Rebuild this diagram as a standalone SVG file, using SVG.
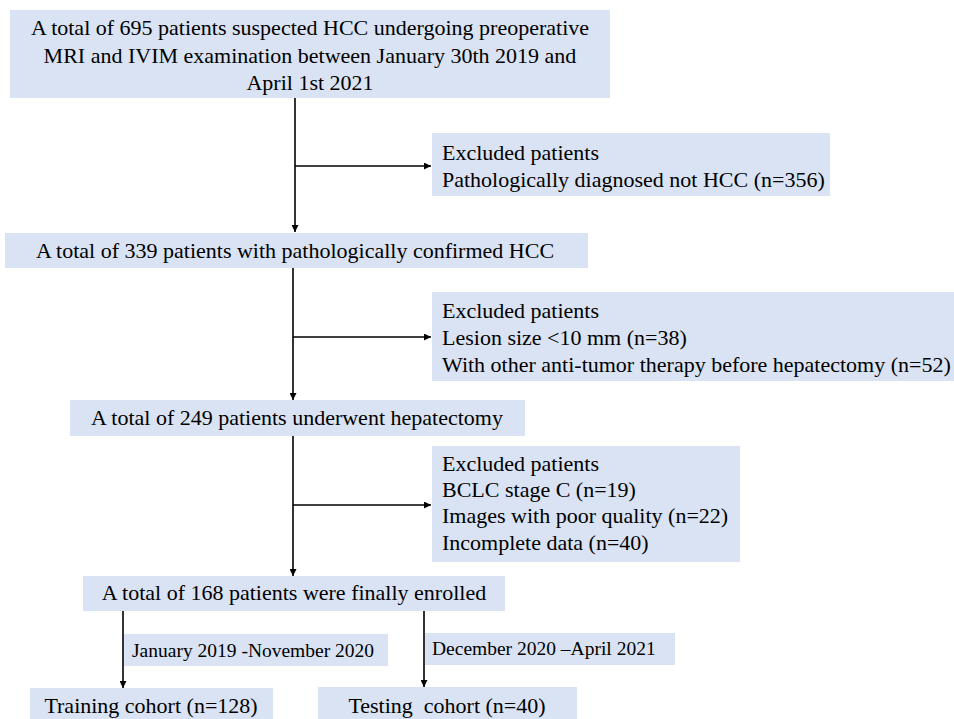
<svg xmlns="http://www.w3.org/2000/svg" width="954" height="719" viewBox="0 0 954 719">
<defs>
<style>
.box{fill:#dae3f3;}
.t{font-family:"Liberation Serif","Times New Roman",serif;font-size:22px;fill:#000;}
.s{font-family:"Liberation Serif","Times New Roman",serif;font-size:19.5px;fill:#000;}
.c{text-anchor:middle;}
.ln{stroke:#000;stroke-width:1.6;fill:none;}
</style>
<marker id="ah" viewBox="0 0 10 10" refX="10" refY="5" markerWidth="7" markerHeight="7" markerUnits="userSpaceOnUse" orient="auto">
<path d="M0,0 L10,5 L0,10 z" fill="#000"/>
</marker>
</defs>
<rect width="954" height="719" fill="#fff"/>
<g id="connectors">
<line class="ln" x1="295" y1="98" x2="295" y2="232" marker-end="url(#ah)"/>
<line class="ln" x1="295" y1="166" x2="431" y2="166" marker-end="url(#ah)"/>
<line class="ln" x1="293" y1="268" x2="293" y2="400" marker-end="url(#ah)"/>
<line class="ln" x1="293" y1="337" x2="431" y2="337" marker-end="url(#ah)"/>
<line class="ln" x1="293" y1="436" x2="293" y2="576" marker-end="url(#ah)"/>
<line class="ln" x1="293" y1="505" x2="431" y2="505" marker-end="url(#ah)"/>
<line class="ln" x1="123" y1="611" x2="123" y2="688" marker-end="url(#ah)"/>
<line class="ln" x1="424" y1="611" x2="424" y2="687" marker-end="url(#ah)"/>
</g>
<g id="n1">
<rect class="box" x="10" y="10" width="600" height="88"/>
<text class="t c" x="310" y="35">A total of 695 patients suspected HCC undergoing preoperative</text>
<text class="t c" x="310" y="63">MRI and IVIM examination between January 30th 2019 and</text>
<text class="t c" x="310" y="90">April 1st 2021</text>
</g>
<g id="e1">
<rect class="box" x="432" y="133" width="398" height="63"/>
<text class="t" x="442" y="160">Excluded patients</text>
<text class="t" x="442" y="187">Pathologically diagnosed not HCC (n=356)</text>
</g>
<g id="n2">
<rect class="box" x="5" y="233" width="583" height="35"/>
<text class="t c" x="295" y="258">A total of 339 patients with pathologically confirmed HCC</text>
</g>
<g id="e2">
<rect class="box" x="432" y="292" width="522" height="89"/>
<text class="t" x="442" y="318">Excluded patients</text>
<text class="t" x="442" y="345">Lesion size &lt;10 mm (n=38)</text>
<text class="t" x="442" y="372">With other anti-tumor therapy before hepatectomy (n=52)</text>
</g>
<g id="n3">
<rect class="box" x="70" y="400" width="455" height="36"/>
<text class="t c" x="297" y="425">A total of 249 patients underwent hepatectomy</text>
</g>
<g id="e3">
<rect class="box" x="432" y="446" width="308" height="116"/>
<text class="t" x="442" y="471">Excluded patients</text>
<text class="t" x="442" y="497">BCLC stage C (n=19)</text>
<text class="t" x="442" y="523">Images with poor quality (n=22)</text>
<text class="t" x="442" y="550">Incomplete data (n=40)</text>
</g>
<g id="n4">
<rect class="box" x="83" y="576" width="422" height="35"/>
<text class="t c" x="294" y="600">A total of 168 patients were finally enrolled</text>
</g>
<g id="l1">
<rect class="box" x="124" y="634" width="264" height="32"/>
<text class="s" x="132" y="657">January 2019 -November 2020</text>
</g>
<g id="l2">
<rect class="box" x="425" y="633" width="250" height="32"/>
<text class="s" x="432" y="655">December 2020 –April 2021</text>
</g>
<g id="n5">
<rect class="box" x="30" y="688" width="243" height="31"/>
<text class="t c" x="151" y="713">Training cohort (n=128)</text>
</g>
<g id="n6">
<rect class="box" x="318" y="687" width="259" height="32"/>
<text class="t c" x="447" y="713">Testing&#160; cohort (n=40)</text>
</g>
</svg>
